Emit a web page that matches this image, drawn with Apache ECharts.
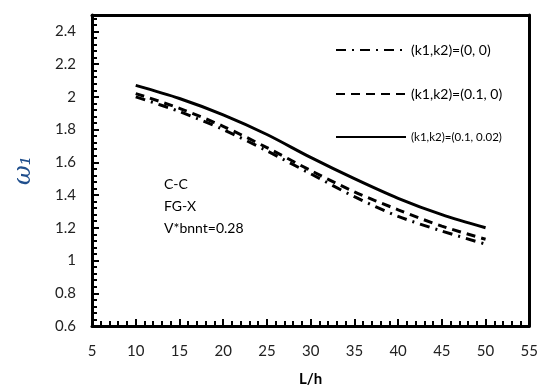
<!DOCTYPE html>
<html>
<head>
<meta charset="utf-8">
<script src="https://cdn.jsdelivr.net/npm/echarts@6/dist/echarts.min.js"></script>
<style>
  html, body { margin: 0; padding: 0; background: #fff; }
  #chart { width: 541px; height: 392px; }
</style>
</head>
<body>
<div id="chart"></div>
<script>
// L/h values and the three curves
const lh = [10, 15, 20, 25, 30, 35, 40, 45, 50]
const k00 = [2.00, 1.91, 1.80, 1.67, 1.53, 1.39, 1.27, 1.18, 1.10]
const k010 = [2.02, 1.93, 1.82, 1.69, 1.55, 1.42, 1.31, 1.21, 1.13]
const k01002 = [2.07, 1.99, 1.89, 1.77, 1.63, 1.50, 1.38, 1.28, 1.20]
const seriesNames = ['(k1,k2)=(0, 0)', '(k1,k2)=(0.1, 0)', '(k1,k2)=(0.1, 0.02)']
const noteLines = ['C-C', 'FG-X', 'V*bnnt=0.28']

const font = 'Lato, "Open Sans", sans-serif'
const pair = (ys) => lh.map((x, i) => [x, ys[i]])

const chart = echarts.init(document.getElementById('chart'))

// plain frame line for the top / right edges
function frameAxis(pos, min, max) {
  return {
    type: 'value', position: pos, min: min, max: max,
    axisLine: { show: true, onZero: false, lineStyle: { color: '#000', width: 3 } },
    axisTick: { show: false }, axisLabel: { show: false }, splitLine: { show: false }
  }
}

const option = {
  animation: false,
  color: ['#000', '#000', '#000'],
  grid: { left: 92, right: 8, top: 15, bottom: 65 },
  legend: {
    orient: 'vertical',
    top: 38,
    left: 330,
    itemWidth: 70,
    itemHeight: 14,
    itemGap: 30,
    itemStyle: { opacity: 0 },
    textStyle: { color: '#000', fontFamily: font, fontSize: 14 },
    data: [
      { name: seriesNames[0] },
      { name: seriesNames[1] },
      { name: seriesNames[2], textStyle: { fontSize: 11.5 } }
    ]
  },
  xAxis: [
    {
      type: 'value',
      position: 'bottom',
      min: 5, max: 55, interval: 5,
      name: 'L/h',
      nameLocation: 'middle',
      nameGap: 46,
      nameTextStyle: { color: '#000', fontSize: 15, fontWeight: 'bold', fontFamily: font },
      axisLine: { show: true, onZero: false, lineStyle: { color: '#000', width: 3 } },
      axisTick: { show: true, inside: true, length: 7, lineStyle: { color: '#000', width: 2 } },
      minorTick: { show: true, splitNumber: 5, length: 5, lineStyle: { color: '#000', width: 2 } },
      splitLine: { show: false },
      axisLabel: { color: '#222', fontSize: 15, fontFamily: font, margin: 18 }
    },
    frameAxis('top', 5, 55)
  ],
  yAxis: [
    {
      type: 'value',
      position: 'left',
      min: 0.6, max: 2.5, interval: 0.2,
      name: 'ω₁',
      nameLocation: 'middle',
      nameRotate: 90,
      nameGap: 56,
      nameTextStyle: { color: '#1f4e8c', fontSize: 24, fontStyle: 'italic', fontFamily: 'DejaVu Serif, serif' },
      axisLine: { show: true, onZero: false, lineStyle: { color: '#000', width: 3 } },
      axisTick: { show: true, inside: true, length: 7, lineStyle: { color: '#000', width: 2 } },
      minorTick: { show: true, splitNumber: 5, length: 5, lineStyle: { color: '#000', width: 2 } },
      splitLine: { show: false },
      // hide the extra 2.5 label the axis adds at max
      axisLabel: { color: '#222', fontSize: 15, fontFamily: font, margin: 16, showMaxLabel: false }
    },
    frameAxis('right', 0.6, 2.5)
  ],
  graphic: noteLines.map((t, i) => ({
    type: 'text',
    left: 164, top: 177 + i * 22,
    style: { text: t, fill: '#000', font: '14px ' + font, textAlign: 'center' }
  })),
  series: [
    {
      name: seriesNames[0], type: 'line', data: pair(k00),
      smooth: 0.3, symbol: 'none',
      lineStyle: { color: '#000', width: 3, type: [10, 6, 2, 6] }
    },
    {
      name: seriesNames[1], type: 'line', data: pair(k010),
      smooth: 0.3, symbol: 'none',
      lineStyle: { color: '#000', width: 3, type: [9, 6] }
    },
    {
      name: seriesNames[2], type: 'line', data: pair(k01002),
      smooth: 0.3, symbol: 'none',
      lineStyle: { color: '#000', width: 3, type: 'solid' }
    }
  ]
}

chart.setOption(option)
</script>
</body>
</html>
